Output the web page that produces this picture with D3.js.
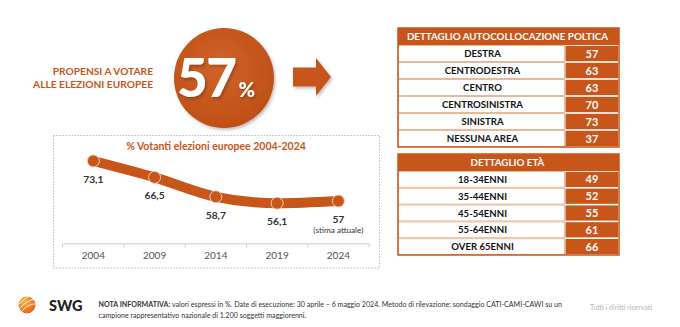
<!DOCTYPE html>
<html><head><meta charset="utf-8">
<script src="https://cdn.jsdelivr.net/npm/d3@7"></script>
<style>
body{margin:0;background:#fff;}
svg{display:block;font-family:Lato,"Open Sans",sans-serif;}
</style></head><body>
<svg id="chart" width="680" height="327"></svg>
<script>
// Headline figure
const headlineValue = 57;
const headlineLines = ["PROPENSI A VOTARE", "ALLE ELEZIONI EUROPEE"];

// Turnout at European elections
const trendTitle = "% Votanti elezioni europee 2004-2024";
const years = ["2004", "2009", "2014", "2019", "2024"];
const turnout = [73.1, 66.5, 58.7, 56.1, 57];
const turnoutNotes = ["", "", "", "", "(stima attuale)"];

// Breakdown by political self-placement
const areaTitle = "DETTAGLIO AUTOCOLLOCAZIONE POLTICA";
const areaLabels = ["DESTRA", "CENTRODESTRA", "CENTRO", "CENTROSINISTRA", "SINISTRA", "NESSUNA AREA"];
const areaValues = [57, 63, 63, 70, 73, 37];

// Breakdown by age
const ageTitle = "DETTAGLIO ETÀ";
const ageLabels = ["18-34ENNI", "35-44ENNI", "45-54ENNI", "55-64ENNI", "OVER 65ENNI"];
const ageValues = [49, 52, 55, 61, 66];

// Footer
const brand = "SWG";
const noteBold = "NOTA INFORMATIVA:";
const noteLine1 = " valori espressi in %. Date di esecuzione: 30 aprile – 6 maggio 2024. Metodo di rilevazione: sondaggio CATI-CAMI-CAWI su un";
const noteLine2 = "campione rappresentativo nazionale di 1.200 soggetti maggiorenni.";
const rights = "Tutti i diritti riservati";

const ORANGE = "#C8561B";
const it = d3.formatLocale({decimal: ",", thousands: ".", grouping: [3], currency: ["€", ""]});
const fmt = it.format(".1~f");

const svg = d3.select("#chart");
svg.append("rect").attr("width", 680).attr("height", 327).attr("fill", "#fff");

const defs = svg.append("defs");
const rg = defs.append("radialGradient").attr("id", "bubble").attr("cx", "45%").attr("cy", "40%").attr("r", "65%");
rg.append("stop").attr("offset", "0%").attr("stop-color", "#D0642A");
rg.append("stop").attr("offset", "100%").attr("stop-color", "#BE4E15");
const sh = defs.append("filter").attr("id", "shadow").attr("x", "-20%").attr("y", "-20%").attr("width", "150%").attr("height", "150%");
sh.append("feDropShadow").attr("dx", 1.5).attr("dy", 2).attr("stdDeviation", 1.6).attr("flood-color", "#000").attr("flood-opacity", 0.25);
const lg = defs.append("radialGradient").attr("id", "globe").attr("cx", "35%").attr("cy", "30%").attr("r", "75%");
lg.append("stop").attr("offset", "0%").attr("stop-color", "#F8B249");
lg.append("stop").attr("offset", "100%").attr("stop-color", "#E2651A");

// ---- Headline ----
const head = svg.append("g");
head.selectAll("text.hl").data(headlineLines).join("text")
  .attr("class", "hl")
  .attr("x", 153).attr("y", (d, i) => 75 + i * 12.5)
  .attr("text-anchor", "end")
  .attr("font-size", 10.2).attr("font-weight", 700).attr("fill", ORANGE)
  .text(d => d);

head.append("circle").attr("cx", 224).attr("cy", 78).attr("r", 50)
  .attr("fill", "url(#bubble)").attr("filter", "url(#shadow)");
const big = head.append("text").attr("x", 216).attr("y", 97)
  .attr("text-anchor", "middle").attr("fill", "#fff").attr("font-weight", 900)
  .attr("filter", "url(#shadow)");
big.append("tspan").attr("font-size", 53).attr("letter-spacing", -1.5).text(headlineValue);
big.append("tspan").attr("font-size", 20).attr("dx", 3).text("%");

// Arrow
const ax0 = 293, axHead = 316, axTip = 331, acy = 77;
head.append("path")
  .attr("d", `M${ax0},${acy - 9.5}H${axHead}V${acy - 19}L${axTip},${acy}L${axHead},${acy + 19}V${acy + 9.5}H${ax0}Z`)
  .attr("fill", ORANGE).attr("filter", "url(#shadow)");

// ---- Turnout trend ----
const trend = svg.append("g");
trend.append("rect").attr("x", 53.5).attr("y", 135.5).attr("width", 326).attr("height", 132.5)
  .attr("fill", "none").attr("stroke", "#bdbdbd").attr("stroke-width", 1).attr("stroke-dasharray", "1.5,1.5");
trend.append("text").attr("x", 216).attr("y", 149.5).attr("text-anchor", "middle")
  .attr("font-size", 10.5).attr("font-weight", 700).attr("fill", ORANGE).text(trendTitle);

const x = d3.scaleBand().domain(years).range([62.7, 369]);
const y = d3.scaleLinear().domain([40, 80]).range([243.3, 143.8]);
const pts = years.map((yr, i) => ({year: yr, v: turnout[i], note: turnoutNotes[i]}));
const cx = d => x(d.year) + x.bandwidth() / 2;

const axis = trend.append("g").attr("transform", "translate(0,243.3)")
  .call(d3.axisBottom(x).tickSize(0).tickPadding(9));
axis.select(".domain").attr("stroke", "#cfcfcf");
axis.selectAll("text").attr("font-family", "Lato, sans-serif").attr("font-size", 10).attr("fill", "#555");
// boundary ticks between categories
trend.append("g").selectAll("line").data(years.concat(["end"])).join("line")
  .attr("x1", d => d === "end" ? x.range()[1] : x(d))
  .attr("x2", d => d === "end" ? x.range()[1] : x(d))
  .attr("y1", 243.3).attr("y2", 247.5).attr("stroke", "#cfcfcf");

trend.append("path").datum(pts)
  .attr("d", d3.line().x(cx).y(d => y(d.v)).curve(d3.curveMonotoneX))
  .attr("fill", "none").attr("stroke", ORANGE).attr("stroke-width", 10).attr("stroke-linecap", "round");
trend.selectAll("circle.pt").data(pts).join("circle").attr("class", "pt")
  .attr("cx", cx).attr("cy", d => y(d.v)).attr("r", 6)
  .attr("fill", ORANGE).attr("stroke", "#F4CDB1").attr("stroke-width", 1);
trend.selectAll("text.val").data(pts).join("text").attr("class", "val")
  .attr("x", cx).attr("y", d => y(d.v) + 22).attr("text-anchor", "middle")
  .attr("font-size", 10.3).attr("font-weight", 700).attr("fill", "#333").text(d => fmt(d.v));
trend.selectAll("text.note").data(pts.filter(d => d.note)).join("text").attr("class", "note")
  .attr("x", cx).attr("y", d => y(d.v) + 32).attr("text-anchor", "middle")
  .attr("font-size", 8.2).attr("fill", "#333").text(d => d.note);

// ---- Detail tables ----
function table(title, labels, values, top, rowsBottom) {
  const g = svg.append("g");
  const left = 398, right = 619, split = 565, headH = 17;
  const rows = d3.scaleBand().domain(labels).range([top + headH, rowsBottom]);
  g.append("rect").attr("x", left).attr("y", top).attr("width", right - left).attr("height", headH)
    .attr("fill", ORANGE);
  g.append("text").attr("x", (left + right) / 2 - 1).attr("y", top + headH / 2 + 3.6)
    .attr("text-anchor", "middle").attr("font-size", 9.8).attr("font-weight", 700).attr("fill", "#fff").text(title);
  const r = g.selectAll("g.row").data(labels.map((l, i) => ({label: l, value: values[i]}))).join("g").attr("class", "row");
  r.append("rect").attr("x", left + 0.5).attr("y", d => rows(d.label) + 0.5)
    .attr("width", split - left - 1).attr("height", rows.bandwidth() - 1)
    .attr("fill", "#fff").attr("stroke", "#E9B896").attr("stroke-width", 1);
  r.append("rect").attr("x", split + 0.5).attr("y", d => rows(d.label) + 0.8)
    .attr("width", right - split - 1.5).attr("height", rows.bandwidth() - 1.6)
    .attr("fill", ORANGE);
  r.append("text").attr("x", (left + split) / 2 + 1).attr("y", d => rows(d.label) + rows.bandwidth() / 2 + 3.6)
    .attr("text-anchor", "middle").attr("font-size", 9.6).attr("font-weight", 700).attr("fill", "#111").text(d => d.label);
  r.append("text").attr("x", (split + right) / 2).attr("y", d => rows(d.label) + rows.bandwidth() / 2 + 4)
    .attr("text-anchor", "middle").attr("font-size", 11).attr("font-weight", 700).attr("fill", "#fff").text(d => d.value);
  g.append("rect").attr("x", left).attr("y", top).attr("width", right - left).attr("height", rowsBottom - top)
    .attr("fill", "none").attr("stroke", ORANGE).attr("stroke-width", 1.5);
}
table(areaTitle, areaLabels, areaValues, 28, 147);
table(ageTitle, ageLabels, ageValues, 154, 255);

// ---- Footer ----
const foot = svg.append("g");
foot.append("circle").attr("cx", 27).attr("cy", 305).attr("r", 8.5).attr("fill", "url(#globe)");
[[-4, 0.9], [0, 0.9], [4, 0.9]].forEach(([o, w]) => {
  foot.append("path")
    .attr("d", `M${19 + o * 0.3},${309 + o} Q${27},${300 + o} ${35 + o * 0.2},${299 + o * 1.2}`)
    .attr("fill", "none").attr("stroke", "#fff").attr("stroke-width", w).attr("opacity", 0.9);
});
foot.append("text").attr("x", 49).attr("y", 311).attr("font-size", 14.5).attr("font-weight", 900)
  .attr("fill", "#222").text(brand);
const n1 = foot.append("text").attr("x", 98.5).attr("y", 307).attr("font-size", 7.1).attr("fill", "#333");
n1.append("tspan").attr("font-weight", 700).text(noteBold);
n1.append("tspan").text(noteLine1);
foot.append("text").attr("x", 98.5).attr("y", 317.5).attr("font-size", 7.1).attr("fill", "#333").text(noteLine2);
foot.append("text").attr("x", 590).attr("y", 310).attr("font-size", 7).attr("fill", "#b5b5b5").text(rights);
</script>
</body></html>
